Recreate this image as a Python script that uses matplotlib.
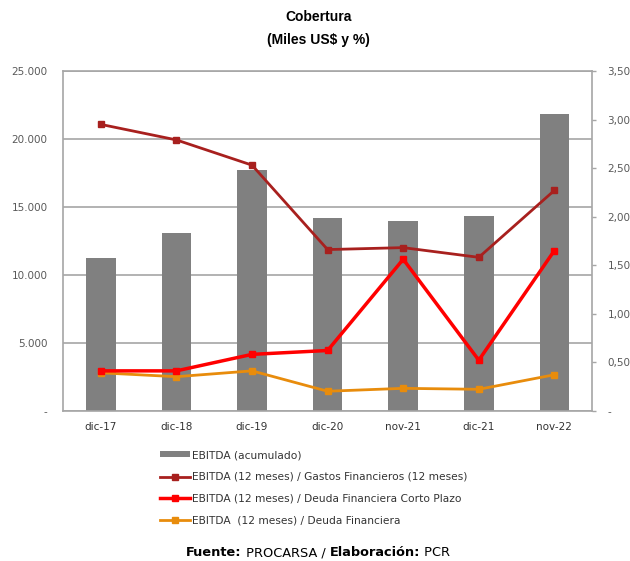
import numpy as np
import matplotlib.pyplot as plt
import matplotlib.ticker as mticker
from matplotlib.patches import Patch
from matplotlib.lines import Line2D

periodos = ["dic-17", "dic-18", "dic-19", "dic-20", "nov-21", "dic-21", "nov-22"]
ebitda = [11200, 13080, 17700, 14210, 13940, 14330, 21800]
cob_gastos = [2.95, 2.79, 2.53, 1.66, 1.68, 1.58, 2.27]
cob_corto = [0.41, 0.41, 0.58, 0.62, 1.56, 0.52, 1.65]
cob_deuda = [0.39, 0.35, 0.41, 0.20, 0.23, 0.22, 0.37]

lbl_ebitda = "EBITDA (acumulado)"
lbl_gastos = "EBITDA (12 meses) / Gastos Financieros (12 meses)"
lbl_corto = "EBITDA (12 meses) / Deuda Financiera Corto Plazo"
lbl_deuda = "EBITDA  (12 meses) / Deuda Financiera"

plt.rcParams["font.family"] = ["DejaVu Sans"]

gris = "#808080"
eje = "#a6a6a6"
texto_ejes = "#595959"
c_gastos = "#a8201e"
c_corto = "#ff0000"
c_deuda = "#e88c0c"

fig = plt.figure(figsize=(6.3, 5.61), dpi=100)
ax = fig.add_axes([0.1, 0.268, 0.84, 0.6054])
x = np.arange(len(periodos))

ax.bar(x, ebitda, width=0.39, color=gris, zorder=2)
ax.set_xlim(-0.5, len(periodos) - 0.5)
ax.set_ylim(0, 25000)
ax.yaxis.set_major_locator(mticker.MultipleLocator(5000))
ax.yaxis.set_major_formatter(mticker.FuncFormatter(
    lambda v, p: "-" if v == 0 else f"{v:,.0f}".replace(",", ".")))
ax.grid(axis="y", color=eje, linewidth=1.2, zorder=1)
ax.set_xticks(x)
ax.set_xticklabels(periodos)
ax.tick_params(axis="y", length=0, pad=11, labelsize=7.5, labelcolor=texto_ejes)
ax.tick_params(axis="x", length=0, pad=8, labelsize=7.5, labelcolor="#333333")
for s in ax.spines.values():
    s.set_color(eje)
    s.set_linewidth(1.2)

ax2 = ax.twinx()
ax2.set_ylim(0, 3.5)
ax2.yaxis.set_major_locator(mticker.MultipleLocator(0.5))
ax2.yaxis.set_major_formatter(mticker.FuncFormatter(
    lambda v, p: "-" if v == 0 else f"{v:.2f}".replace(".", ",")))
ax2.tick_params(axis="y", length=3, width=1, color=eje, pad=8,
                labelsize=7.5, labelcolor=texto_ejes)
for s in ax2.spines.values():
    s.set_visible(False)

ax2.plot(x, cob_gastos, color=c_gastos, lw=2, marker="s", ms=5, zorder=3)
ax2.plot(x, cob_deuda, color=c_deuda, lw=2, marker="s", ms=5, zorder=3)
ax2.plot(x, cob_corto, color=c_corto, lw=2.5, marker="s", ms=5, zorder=4)

fig.text(0.505, 1 - 17 / 561, "Cobertura", ha="center", va="center",
         fontsize=10, fontweight="bold", family="Liberation Sans")
fig.text(0.505, 1 - 40 / 561, "(Miles US$ y %)", ha="center", va="center",
         fontsize=10, fontweight="bold", family="Liberation Sans")

handles = [
    Patch(facecolor=gris, edgecolor="none"),
    Line2D([], [], color=c_gastos, lw=2, marker="s", ms=4),
    Line2D([], [], color=c_corto, lw=2.5, marker="s", ms=4),
    Line2D([], [], color=c_deuda, lw=2, marker="s", ms=4),
]
fig.legend(handles, [lbl_ebitda, lbl_gastos, lbl_corto, lbl_deuda],
           loc="upper left", bbox_to_anchor=(160 / 630, 1 - 450 / 561),
           bbox_transform=fig.transFigure, frameon=False, fontsize=7.7,
           labelcolor="#333333", handlelength=2.8, handleheight=0.4,
           handletextpad=0.2, labelspacing=1.1, borderaxespad=0,
           borderpad=0)

# pie de fuente con partes en negrita
partes = [("Fuente:", "bold"), (" PROCARSA / ", "normal"),
          ("Elaboración:", "bold"), (" PCR", "normal")]
fig.canvas.draw()
r = fig.canvas.get_renderer()
objs = []
for t, w in partes:
    objs.append(fig.text(0, 1 - 553 / 561, t, fontsize=9.3, fontweight=w,
                         va="center", ha="left"))
anchos = [o.get_window_extent(r).width for o in objs]
x0 = 0.505 * fig.bbox.width - sum(anchos) / 2
for o, a in zip(objs, anchos):
    o.set_x(x0 / fig.bbox.width)
    x0 += a

fig.savefig("out.png", dpi=100)
